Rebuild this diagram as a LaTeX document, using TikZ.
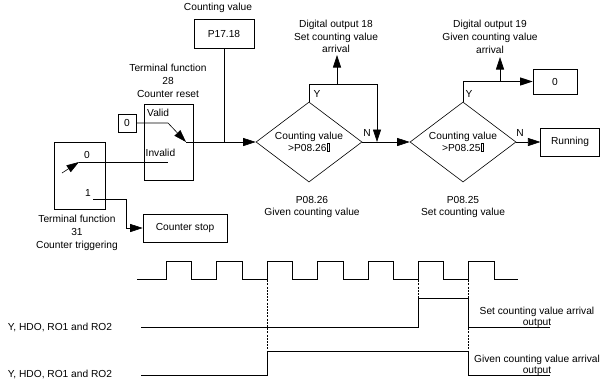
\documentclass[tikz,border=0pt]{standalone}
\usepackage{fontspec}
\setmainfont{Liberation Sans}
\usetikzlibrary{arrows.meta,shapes.geometric}
\newcommand\notdefbox{\kern0.4pt{\setlength\fboxsep{0pt}\setlength\fboxrule{0.4pt}\fbox{\rule{0pt}{7.3pt}\hspace{2.2pt}}}}
\tikzset{
  lbl/.style={inner sep=0pt, align=center, font=\fontsize{10.2}{12.7}\selectfont},
  lbls/.style={inner sep=0pt, align=center, font=\fontsize{10.2}{11.2}\selectfont},
  box/.style={draw, line width=0.6pt, inner sep=0pt, font=\fontsize{10.2}{12}\selectfont},
  dia/.style={draw, line width=0.6pt, shape=diamond, aspect=1.33, minimum width=106pt, minimum height=80pt,
              inner sep=0pt, align=center, font=\fontsize{10.2}{11.2}\selectfont},
  ln/.style={line width=0.6pt},
  arr/.style={line width=0.6pt, -{Triangle[length=12.5pt,width=8pt]}},
  sig/.style={line width=0.7pt},
  dsh/.style={line width=0.5pt, dash pattern=on 2pt off 1.2pt}
}
\begin{document}
\begin{tikzpicture}[x=1pt,y=-1pt]
\useasboundingbox (0,0) rectangle (600,384);

% ---------- upper flow chart ----------
\node[lbl] (cvl) at (218,8) {Counting value};
\node[box, minimum width=60pt, minimum height=29pt] (p1718) at (224,33.5) {P17.18};

\node[lbl] (tf28) at (168,81) {Terminal function\\28\\Counter reset};
\node[box, minimum width=49pt, minimum height=76pt] (rst) at (168.5,142) {};
\node[lbl, anchor=west] (valid) at (147,113) {Valid};
\node[lbl, anchor=west] (invalid) at (145.5,153) {Invalid};
\node[box, minimum width=18pt, minimum height=18pt] (z1) at (127,123) {0};

\node[box, minimum width=51pt, minimum height=67pt] (trg) at (79.5,175.5) {};
\node[lbl] (s0) at (87,155) {0};
\node[lbl] (s1) at (88,193) {1};
\node[lbl] (tf31) at (77,233) {Terminal function\\31\\Counter triggering};
\node[box, minimum width=84pt, minimum height=28pt] (cs) at (185,228) {Counter stop};

\node[dia] (d1) at (309,142) {Counting value\\{>}P08.26\notdefbox};
\node[dia] (d2) at (463,142) {Counting value\\{>}P08.25\notdefbox};
\node[lbl] (y1) at (317,94) {Y};
\node[lbl] (n1) at (367,133) {N};
\node[lbl] (y2) at (469,94) {Y};
\node[lbl] (n2) at (520,133) {N};
\node[lbl] (do18) at (336,36.5) {Digital output 18\\Set counting value\\arrival};
\node[lbl] (do19) at (490,37) {Digital output 19\\Given counting value\\arrival};
\node[box, minimum width=44pt, minimum height=25pt] (z2) at (555,81.5) {0};
\node[box, minimum width=58.5pt, minimum height=28pt] (run) at (570,142) {Running};
\node[lbl] (g26) at (312,207) {P08.26\\Given counting value};
\node[lbl] (s25) at (463,207) {P08.25\\Set counting value};

% connectors
\coordinate (rj) at (186,142);
\coordinate (vk) at (168,123);
\draw[arr] (z1.east) -- (vk) -- (rj);
\draw[arr] (rj) -- (d1.west);
\draw[ln] (p1718.south) -- (p1718.south |- rj);

\coordinate (sw0) at (79,162);
\coordinate (swb) at (62,173);
\coordinate (iv) at (168,162);
\draw[arr] (swb) -- (sw0);
\draw[ln] (sw0) -- (iv);

\coordinate (t1) at (93,199);
\coordinate (tk) at (126,199);
\draw[arr] (t1) -- (tk) |- (cs.west);

\coordinate (yr) at (377,84);
\coordinate (nj) at (377,142);
\draw[arr] (d1.north) |- (yr) -- (nj);
\coordinate (u1) at (337,84);
\coordinate (u1t) at (337,55);
\draw[arr] (u1) -- (u1t);
\draw[arr] (d1.east) -- (d2.west);

\draw[arr] (d2.north) |- (z2.west);
\coordinate (u2) at (500,81.5);
\coordinate (u2t) at (500,57);
\draw[arr] (u2) -- (u2t);
\draw[arr] (d2.east) -- (run.west);

% ---------- timing diagram ----------
\draw[sig] (137,279)
  -- (166,279) -- (166,261) -- (191,261) -- (191,279)
  -- (216,279) -- (216,261) -- (242,261) -- (242,279)
  -- (267,279) -- (267,261) -- (292,261) -- (292,279)
  -- (317,279) -- (317,261) -- (343,261) -- (343,279)
  -- (368,279) -- (368,261) -- (393,261) -- (393,279)
  -- (418,279) -- (418,261) -- (443,261) -- (443,279)
  -- (468,279) -- (468,261) -- (494,261) -- (494,279)
  -- (518,279);

\draw[dsh] (267,261) -- (267,375);
\draw[dsh] (418,261) -- (418,298);
\draw[dsh] (468,261) -- (468,375);

\draw[sig] (141,327) -- (418,327) -- (418,298) -- (468,298) -- (468,327) -- (550,327);
\draw[sig] (141,375) -- (267,375) -- (267,351) -- (468,351) -- (468,375) -- (550,375);

\node[lbl] (yl1) at (60,327) {Y, HDO, RO1 and RO2};
\node[lbl] (yl2) at (60,374) {Y, HDO, RO1 and RO2};
\node[lbls] (sca) at (537,317.5) {Set counting value arrival\\output};
\node[lbls] (gca) at (537,365.5) {Given counting value arrival\\output};
\end{tikzpicture}
\end{document}
